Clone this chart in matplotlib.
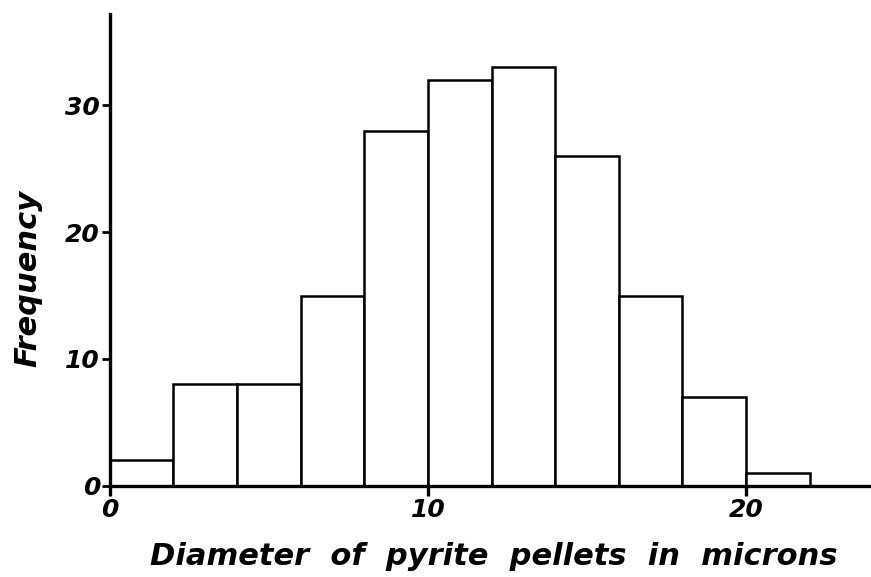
import matplotlib
matplotlib.use("Agg")
import matplotlib.pyplot as plt

bin_edges = [0, 2, 4, 6, 8, 10, 12, 14, 16, 18, 20, 22]
frequency = [2, 8, 8, 15, 28, 32, 33, 26, 15, 7, 1]
x_ticks = [0, 10, 20]
y_ticks = [0, 10, 20, 30]

fig = plt.figure(figsize=(8.71, 5.77), dpi=100)
ax = fig.add_axes([0.126, 0.158, 0.873, 0.818])

lefts = bin_edges[:-1]
widths = [b - a for a, b in zip(bin_edges[:-1], bin_edges[1:])]
ax.bar(lefts, frequency, width=widths, align="edge", facecolor="white",
       edgecolor="black", linewidth=1.8, zorder=2)

ax.set_xlim(0, 23.9)
ax.set_ylim(0, 37.2)
for s in ["top", "right"]:
    ax.spines[s].set_visible(False)
for s in ["left", "bottom"]:
    ax.spines[s].set_linewidth(2.4)
    ax.spines[s].set_zorder(3)

font = dict(fontweight="bold", fontstyle="italic", family="DejaVu Sans")
ax.set_xticks(x_ticks)
ax.set_yticks(y_ticks)
ax.set_xticklabels([str(t) for t in x_ticks], fontsize=18, **font)
ax.set_yticklabels([str(t) for t in y_ticks], fontsize=18, **font)
ax.tick_params(axis="y", length=6, width=2, pad=1)
ax.tick_params(axis="x", length=7, width=2.4, pad=2)

ax.set_xlabel("Diameter  of  pyrite  pellets  in  microns", fontsize=22, **font)
ax.set_ylabel("Frequency", fontsize=22, **font)
ax.xaxis.set_label_coords(0.505, -0.118)
ax.yaxis.set_label_coords(-0.088, 0.44)

fig.savefig("out.png", dpi=100)
